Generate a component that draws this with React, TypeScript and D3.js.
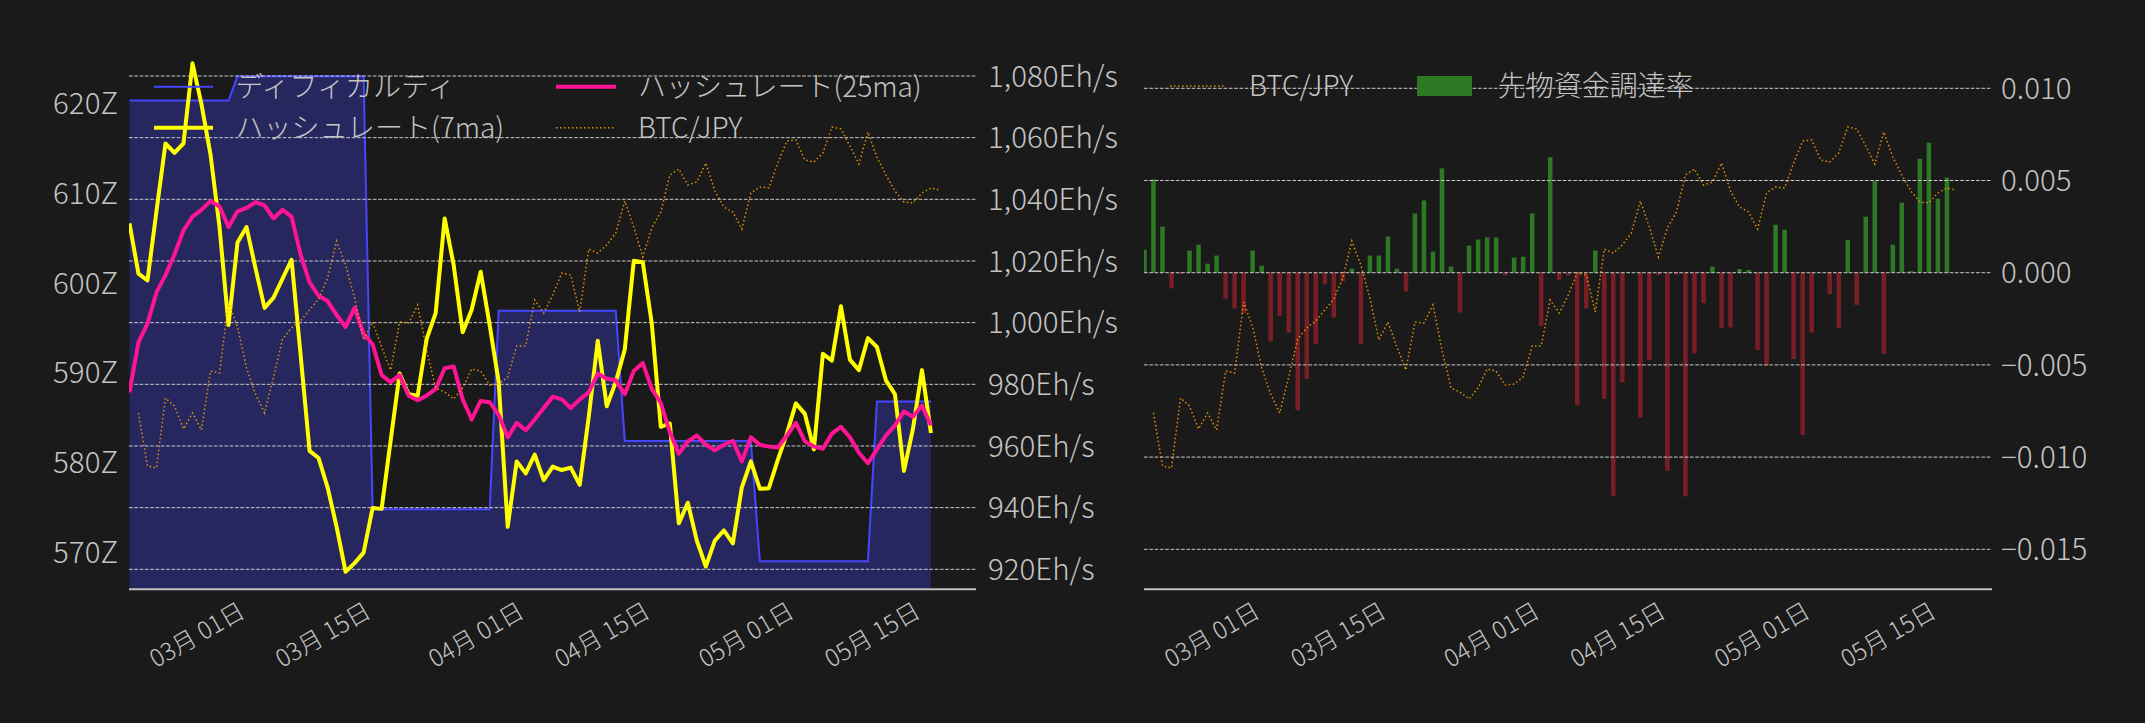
import React from "react";
import * as d3 from "d3";

// ---------------- data ----------------
const DAY = 86400000;
// hashrate / difficulty / funding: daily from 2026-02-16 to 2026-05-16
const hashDates: Date[] = d3.utcDay.range(new Date(Date.UTC(2026, 1, 16)), new Date(Date.UTC(2026, 4, 17)));
// BTC/JPY: daily from 2026-02-17 to 2026-05-17
const btcDates: Date[] = d3.utcDay.range(new Date(Date.UTC(2026, 1, 17)), new Date(Date.UTC(2026, 4, 18)));

// difficulty (Z)
const difficulty = [
  620.3, 620.3, 620.3, 620.3, 620.3, 620.3, 620.3, 620.3, 620.3, 620.3, 620.3, 620.3,
  623.0, 623.0, 623.0, 623.0, 623.0, 623.0, 623.0, 623.0, 623.0, 623.0, 623.0, 623.0, 623.0, 623.0, 623.0,
  574.8, 574.8, 574.8, 574.8, 574.8, 574.8, 574.8, 574.8, 574.8, 574.8, 574.8, 574.8, 574.8, 574.8,
  596.9, 596.9, 596.9, 596.9, 596.9, 596.9, 596.9, 596.9, 596.9, 596.9, 596.9, 596.9, 596.9, 596.9,
  582.4, 582.4, 582.4, 582.4, 582.4, 582.4, 582.4, 582.4, 582.4, 582.4, 582.4, 582.4, 582.4, 582.4, 582.4,
  569.0, 569.0, 569.0, 569.0, 569.0, 569.0, 569.0, 569.0, 569.0, 569.0, 569.0, 569.0, 569.0,
  586.8, 586.8, 586.8, 586.8, 586.8, 586.8, 586.8,
];

// hashrate 7-day MA (Eh/s)
const hash7 = [
  1032.2, 1015.9, 1013.7, 1036.1, 1058.1, 1055.1, 1058.1, 1084.1, 1070.8, 1054.5,
  1031.0, 999.2, 1026.0, 1031.0, 1017.6, 1004.8, 1008.1, 1014.3, 1020.4, 989.7,
  958.4, 956.1, 946.6, 933.8, 919.2, 922.0, 925.4, 939.9, 939.6, 961.7,
  983.5, 976.8, 976.3, 994.7, 1003.1, 1033.8, 1018.7, 996.9, 1004.2, 1016.5,
  999.2, 980.7, 933.8, 955.0, 951.1, 957.2, 948.9, 953.3, 952.2, 953.0,
  947.4, 969.5, 994.1, 972.9, 980.7, 991.3, 1020.1, 1019.6, 999.7, 966.2,
  967.3, 934.9, 941.6, 929.3, 920.9, 929.3, 932.6, 928.4, 946.6, 955.0,
  946.1, 946.3, 955.6, 964.0, 973.8, 970.4, 958.9, 989.9, 987.7, 1005.3,
  988.0, 984.6, 995.0, 992.1, 981.3, 976.8, 951.9, 965.6, 984.6, 964.2,
];

// hashrate 25-day MA (Eh/s)
const hash25 = [
  977.4, 993.6, 999.7, 1009.8, 1015.4, 1022.1, 1029.9, 1034.4, 1036.6, 1039.4,
  1037.7, 1031.0, 1036.1, 1037.2, 1039.1, 1038.0, 1033.8, 1036.6, 1034.4, 1022.1,
  1013.1, 1008.7, 1007.0, 1002.5, 998.6, 1004.8, 996.4, 993.0, 983.0, 980.7,
  983.0, 976.3, 974.8, 976.3, 978.5, 985.2, 985.8, 975.1, 968.6, 974.6,
  974.2, 970.1, 962.8, 967.5, 965.1, 968.6, 972.3, 976.0, 975.1, 972.3,
  975.1, 977.4, 983.5, 981.8, 981.3, 976.8, 984.3, 986.9, 978.5, 974.0,
  964.5, 957.5, 961.5, 963.4, 960.4, 958.6, 960.4, 961.7, 955.0, 962.8,
  960.4, 959.8, 959.5, 963.4, 967.5, 961.5, 959.8, 959.1, 964.0, 966.2,
  962.8, 957.8, 954.4, 958.9, 963.4, 966.7, 971.2, 969.5, 973.1, 966.7,
];

// BTC/JPY (万円)
const btcJpy = [
  1255, 1202, 1200, 1270, 1262, 1239, 1255, 1238, 1297, 1295,
  1366, 1341, 1300, 1274, 1255, 1291, 1329, 1340, 1347, 1358,
  1369, 1390, 1427, 1403, 1370, 1328, 1346, 1321, 1298, 1346,
  1345, 1363, 1318, 1280, 1276, 1269, 1280, 1299, 1297, 1283,
  1284, 1291, 1322, 1322, 1368, 1355, 1373, 1395, 1393, 1356,
  1419, 1415, 1423, 1435, 1467, 1441, 1411, 1440, 1456, 1493,
  1499, 1483, 1486, 1505, 1477, 1461, 1456, 1439, 1475, 1481,
  1480, 1505, 1527, 1528, 1508, 1506, 1515, 1541, 1539, 1522,
  1504, 1536, 1511, 1493, 1477, 1466, 1465, 1475, 1480, 1478,
];

// futures funding rate
const funding = [
  0.00125, 0.00506, 0.0025, -0.00085, -0.00007, 0.0012, 0.00152, 0.00049, 0.00093, -0.0014,
  -0.00194, -0.0022, 0.0012, 0.00038, -0.00374, -0.00234, -0.00325, -0.00746, -0.00575, -0.00388,
  -0.00062, -0.00243, -0.00047, 0.00022, -0.00388, 0.00093, 0.00093, 0.00196, 0.00022, -0.00102,
  0.00321, 0.00392, 0.00114, 0.00566, 0.00033, -0.00216, 0.00147, 0.0018, 0.00191, 0.00191,
  -0.00015, 0.00082, 0.00087, 0.00321, -0.00289, 0.00626, -0.00038, -0.00015, -0.00719, -0.00194,
  0.0012, -0.00684, -0.0121, -0.00594, 0.0, -0.00786, -0.00475, -0.00013, -0.01074, -0.0001,
  -0.01213, -0.00438, -0.00166, 0.00033, -0.00302, -0.00297, 0.0002, 0.00014, -0.00419, -0.00504,
  0.0026, 0.00233, -0.00468, -0.0088, -0.00324, 0.0, -0.00116, -0.00302, 0.00177, -0.00175,
  0.00304, 0.00497, -0.00441, 0.00152, 0.0038, 0.00009, 0.00618, 0.00705, 0.00401, 0.00515,
];

const xTickDates = [
  new Date(Date.UTC(2026, 2, 1)),
  new Date(Date.UTC(2026, 2, 15)),
  new Date(Date.UTC(2026, 3, 1)),
  new Date(Date.UTC(2026, 3, 15)),
  new Date(Date.UTC(2026, 4, 1)),
  new Date(Date.UTC(2026, 4, 15)),
];
const zTicks = [570, 580, 590, 600, 610, 620];
const ehTicks = [920, 940, 960, 980, 1000, 1020, 1040, 1060, 1080];
const frTicks = [-0.015, -0.01, -0.005, 0, 0.005, 0.01];

const legendLeft = ["ディフィカルティ", "ハッシュレート(7ma)", "ハッシュレート(25ma)", "BTC/JPY"];
const legendRight = ["BTC/JPY", "先物資金調達率"];

// ---------------- layout & style ----------------
const W = 2145;
const H = 723;
const BG = "#1a1a1a";
const TXT = "#c4c4c4";
const FONT = "'Noto Sans CJK JP', 'Noto Sans', sans-serif";
const FW = 300;
const FS = 28; // legend
const FS_Y = 29.5; // y tick labels
const FS_X = 24; // x tick labels
const GRID = "#c8c8c8";
const C_DIFF = "#4646ff";
const C_FILL = "rgba(68,68,255,0.3)";
const C_H7 = "#ffff00";
const C_H25 = "#ff1493";
const C_BTC = "rgba(255,165,0,0.85)";
const C_POS = "#2e7a24";
const C_NEG = "#7a1e26";

const PL = { left: 129, right: 976, top: 40, bottom: 589.3 };
const PR = { left: 1144, right: 1992, top: 40, bottom: 589.3 };

const xDomain = [new Date(Date.UTC(2026, 1, 16) - 0.05 * DAY), new Date(Date.UTC(2026, 4, 21))];

const fmtDate = d3.utcFormat("%m月 %d日");
const fmtEh = (v: number) => d3.format(",")(v) + "Eh/s";
const fmtFr = d3.format(".3f");

const textProps = { fill: TXT, fontFamily: FONT, fontWeight: FW };

function XTicks({ x }: { x: d3.ScaleTime<number, number> }) {
  return (
    <g>
      {xTickDates.map((d, i) => (
        <text
          key={i}
          transform={`translate(${x(d)},${616}) rotate(-30)`}
          textAnchor="end"
          fontSize={FS_X}
          {...textProps}
        >
          {fmtDate(d)}
        </text>
      ))}
    </g>
  );
}

function LeftChart() {
  const x = d3.scaleUtc().domain(xDomain).range([PL.left, PL.right]);
  const yZ = d3.scaleLinear().domain([570, 620]).range([552.3, 103.3]);
  const yEh = d3.scaleLinear().domain([920, 1080]).range([569.3, 76]);
  const yBtc = d3.scaleLinear().domain([1000, 1600]).range([668, 68]);

  const area = d3
    .area<number>()
    .x((_, i) => x(hashDates[i]))
    .y0(PL.bottom)
    .y1((d) => yZ(d));
  const lineDiff = d3
    .line<number>()
    .x((_, i) => x(hashDates[i]))
    .y((d) => yZ(d));
  const lineEh = d3
    .line<number>()
    .x((_, i) => x(hashDates[i]))
    .y((d) => yEh(d));
  const lineBtc = d3
    .line<number>()
    .x((_, i) => x(btcDates[i]))
    .y((d) => yBtc(d));

  const lx1 = 154, lx2 = 213, ltx = 235.5;
  const rx1 = 556, rx2 = 616, rtx = 638;
  const r1 = 86.7, r2 = 127.7;
  const dy = FS * 0.36;
  const dyY = FS_Y * 0.36;

  return (
    <g>
      <defs>
        <clipPath id="clipL">
          <rect x={PL.left} y={PL.top} width={PL.right - PL.left} height={PL.bottom - PL.top} />
        </clipPath>
      </defs>
      <g clipPath="url(#clipL)">
        <path d={area(difficulty) || ""} fill={C_FILL} />
        <path d={lineDiff(difficulty) || ""} fill="none" stroke={C_DIFF} strokeWidth={2} />
      </g>
      {ehTicks.map((t) => (
        <line
          key={t}
          x1={PL.left}
          x2={PL.right}
          y1={yEh(t)}
          y2={yEh(t)}
          stroke={GRID}
          strokeWidth={1}
          strokeDasharray="3.7,1.6"
        />
      ))}
      <g clipPath="url(#clipL)">
        <path d={lineEh(hash7) || ""} fill="none" stroke={C_H7} strokeWidth={4} strokeLinejoin="round" />
        <path d={lineEh(hash25) || ""} fill="none" stroke={C_H25} strokeWidth={4} strokeLinejoin="round" />
        <path d={lineBtc(btcJpy) || ""} fill="none" stroke={C_BTC} strokeWidth={1.5} strokeDasharray="1.5,2.5" />
      </g>
      <line x1={PL.left} x2={PL.right} y1={PL.bottom} y2={PL.bottom} stroke="#c0c0c0" strokeWidth={2} />
      {zTicks.map((t) => (
        <text key={t} x={118} y={yZ(t) + dyY} textAnchor="end" fontSize={FS_Y} {...textProps}>
          {t + "Z"}
        </text>
      ))}
      {ehTicks.map((t) => (
        <text key={t} x={988} y={yEh(t) + dyY} fontSize={FS_Y} {...textProps}>
          {fmtEh(t)}
        </text>
      ))}
      <XTicks x={x} />
      {/* legend */}
      <line x1={lx1} x2={lx2} y1={r1} y2={r1} stroke={C_DIFF} strokeWidth={2} />
      <text x={ltx} y={r1 + dy} fontSize={FS} {...textProps}>{legendLeft[0]}</text>
      <line x1={lx1} x2={lx2} y1={r2} y2={r2} stroke={C_H7} strokeWidth={4} />
      <text x={ltx} y={r2 + dy} fontSize={FS} {...textProps}>{legendLeft[1]}</text>
      <line x1={rx1} x2={rx2} y1={r1} y2={r1} stroke={C_H25} strokeWidth={4} />
      <text x={rtx} y={r1 + dy} fontSize={FS} {...textProps}>{legendLeft[2]}</text>
      <line x1={rx1} x2={rx2} y1={r2} y2={r2} stroke={C_BTC} strokeWidth={1.5} strokeDasharray="1.5,2.5" />
      <text x={rtx} y={r2 + dy} fontSize={FS} {...textProps}>{legendLeft[3]}</text>
    </g>
  );
}

function RightChart() {
  const x = d3.scaleUtc().domain(xDomain).range([PR.left, PR.right]);
  const yFr = d3.scaleLinear().domain([-0.015, 0.01]).range([549.3, 88.3]);
  const yBtc = d3.scaleLinear().domain([1000, 1600]).range([668, 68]);
  const lineBtc = d3
    .line<number>()
    .x((_, i) => x(btcDates[i]))
    .y((d) => yBtc(d));
  const bw = 4.5;
  const dy = FS * 0.36;
  const dyY = FS_Y * 0.36;
  const ly = 86;

  return (
    <g>
      <defs>
        <clipPath id="clipR">
          <rect x={PR.left} y={PR.top} width={PR.right - PR.left} height={PR.bottom - PR.top} />
        </clipPath>
      </defs>
      <g clipPath="url(#clipR)">
        {funding.map((v, i) => {
          const y0 = yFr(Math.max(0, v));
          const y1 = yFr(Math.min(0, v));
          return (
            <rect
              key={i}
              x={x(hashDates[i]) - bw / 2}
              y={y0}
              width={bw}
              height={Math.max(0, y1 - y0)}
              fill={v >= 0 ? C_POS : C_NEG}
            />
          );
        })}
      </g>
      {frTicks.map((t) => (
        <line
          key={t}
          x1={PR.left}
          x2={PR.right}
          y1={yFr(t)}
          y2={yFr(t)}
          stroke={GRID}
          strokeWidth={1}
          strokeDasharray="3.7,1.6"
        />
      ))}
      <g clipPath="url(#clipR)">
        <path d={lineBtc(btcJpy) || ""} fill="none" stroke={C_BTC} strokeWidth={1.5} strokeDasharray="1.5,2.5" />
      </g>
      <line x1={PR.left} x2={PR.right} y1={PR.bottom} y2={PR.bottom} stroke="#c0c0c0" strokeWidth={2} />
      {frTicks.map((t) => (
        <text key={t} x={2001} y={yFr(t) + dyY} fontSize={FS_Y} {...textProps}>
          {fmtFr(t)}
        </text>
      ))}
      <XTicks x={x} />
      {/* legend */}
      <line x1={1170} x2={1224} y1={ly} y2={ly} stroke={C_BTC} strokeWidth={1.5} strokeDasharray="1.5,2.5" />
      <text x={1249} y={ly + dy} fontSize={FS} {...textProps}>{legendRight[0]}</text>
      <rect x={1417} y={76} width={55} height={20} fill={C_POS} />
      <text x={1497.7} y={ly + dy} fontSize={FS} {...textProps}>{legendRight[1]}</text>
    </g>
  );
}

export default function App() {
  return (
    <svg
      width={W}
      height={H}
      viewBox={`0 0 ${W} ${H}`}
      style={{ position: "absolute", left: 0, top: 0, display: "block" }}
    >
      <rect x={0} y={0} width={W} height={H} fill={BG} />
      <LeftChart />
      <RightChart />
    </svg>
  );
}
